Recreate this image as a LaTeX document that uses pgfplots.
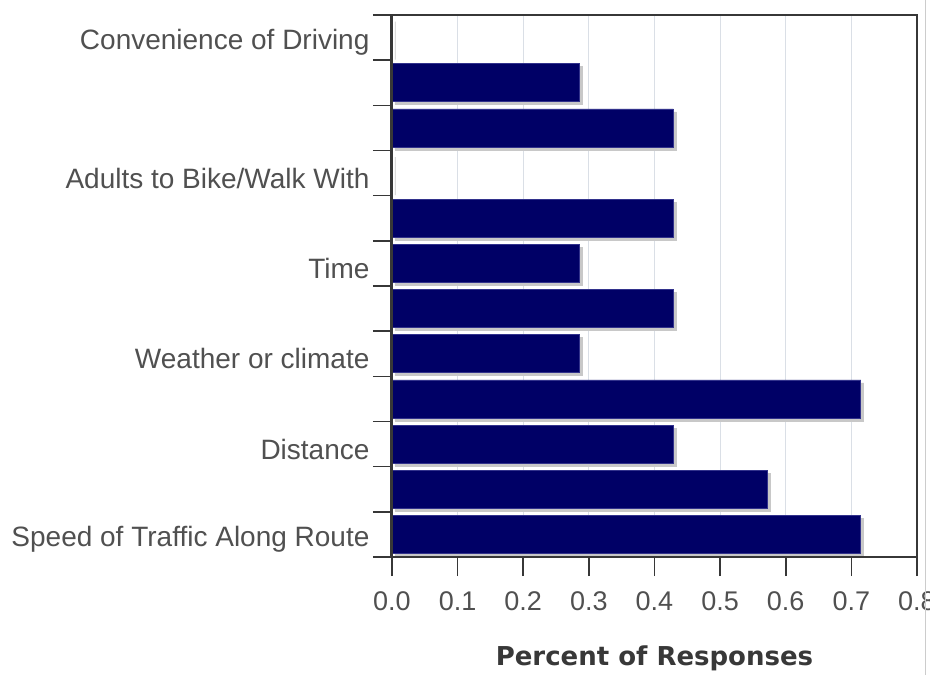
\documentclass[border=0pt]{standalone}
\usepackage{pgfplots}
\pgfplotsset{compat=1.18}
\usepackage{fontspec}
\setmainfont{Liberation Sans}
\newfontfamily\labfont{DejaVu Sans}
\definecolor{barnavy}{RGB}{0,0,102}
\definecolor{baredge}{RGB}{50,50,140}
\definecolor{shadowgray}{RGB}{200,200,200}
\definecolor{gridc}{RGB}{218,223,230}
\definecolor{axisc}{RGB}{55,55,55}
\definecolor{labc}{RGB}{80,80,80}
\begin{document}
\begin{tikzpicture}
\begin{axis}[
  scale only axis, width=525pt, height=542pt,
  xmin=0, xmax=0.8, ymin=-0.5, ymax=11.5,
  clip=false,
  xtick={0,0.1,0.2,0.3,0.4,0.5,0.6,0.7,0.8},
  xticklabel={\pgfmathprintnumber[fixed,fixed zerofill,precision=1,assume math mode=true]{\tick}},
  tick label style={text=labc},
  xticklabel style={font=\fontsize{27}{32}\selectfont, yshift=-12pt},
  yticklabel style={font=\fontsize{28}{33}\selectfont, yshift=-5pt},
  xtick pos=bottom, ytick pos=left, tick align=outside, major tick length=19pt,
  tick style={axisc, line width=1.6pt},
  ytick={-0.5,0.5,1.5,2.5,3.5,4.5,5.5,6.5,7.5,8.5,9.5,10.5,11.5},
  yticklabels={},
  extra y ticks={0,2,4,6,8,11},
  extra y tick labels={Speed of Traffic Along Route,Distance,Weather or climate,Time,Adults to Bike/Walk With,Convenience of Driving},
  extra y tick style={tick style={draw=none}, ymajorgrids=false},
  xmajorgrids, grid style={gridc, line width=1pt},
  axis line style={axisc, line width=1.6pt},
  xlabel={Percent of Responses},
  xlabel style={font=\labfont\bfseries\fontsize{26}{30}\selectfont, text=black!78, at={(axis description cs:0.5,0)}, anchor=center, yshift=-101pt},
]
\addplot[xbar, bar width=38pt, bar shift=-3pt, xshift=3pt, fill=shadowgray, draw=shadowgray, line width=0.8pt] coordinates {
(0,11) (0.2857,10) (0.4286,9) (0,8) (0.4286,7) (0.2857,6) (0.4286,5) (0.2857,4) (0.7143,3) (0.4286,2) (0.5714,1) (0.7143,0)};
\addplot[xbar, bar width=38pt, bar shift=0pt, fill=barnavy, draw=baredge, line width=0.6pt] coordinates {
(0,11) (0.2857,10) (0.4286,9) (0,8) (0.4286,7) (0.2857,6) (0.4286,5) (0.2857,4) (0.7143,3) (0.4286,2) (0.5714,1) (0.7143,0)};
\draw[axisc, line width=3pt] (rel axis cs:0,0) -- (rel axis cs:0,1);
\draw[axisc, line width=2.5pt] (rel axis cs:0,0) -- (rel axis cs:1,0);
\end{axis}
\draw[black!20, line width=1pt] ([xshift=533pt,yshift=-118pt]current axis.south west) -- ++(0,675pt);
\pgfresetboundingbox
\path ([xshift=-392pt,yshift=-118pt]current axis.south west) rectangle ([xshift=538pt,yshift=557pt]current axis.south west);
\end{tikzpicture}
\end{document}
